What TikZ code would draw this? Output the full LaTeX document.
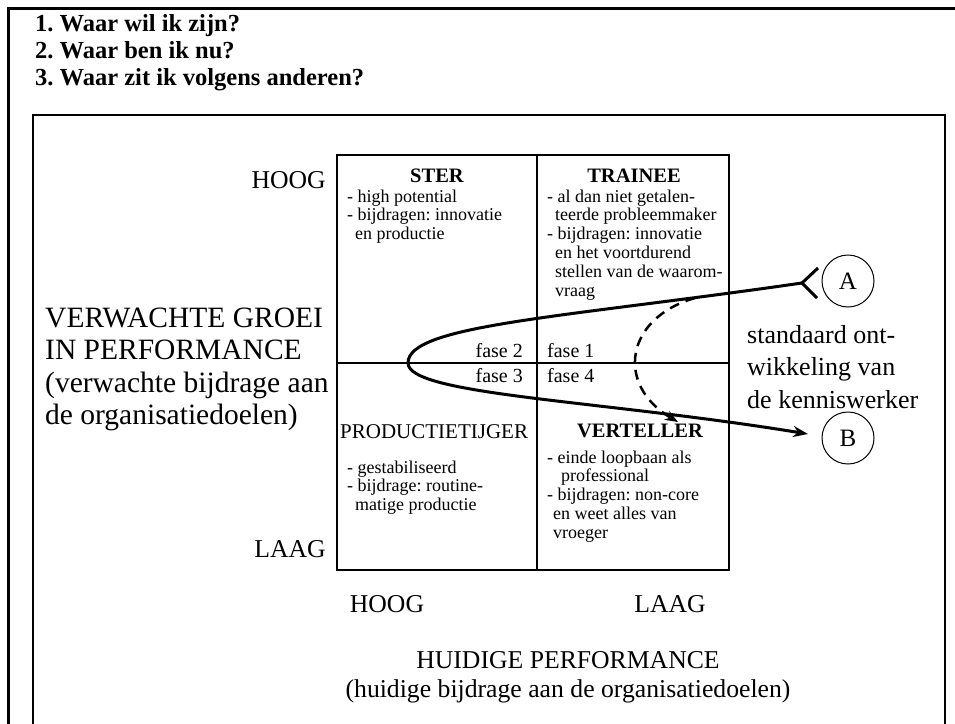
\documentclass[tikz,border=0pt]{standalone}
\usepackage{fontspec}
\setmainfont{Liberation Serif}
\usetikzlibrary{arrows.meta}

\newcommand\fsz[2]{\fontsize{#1}{#2}\selectfont}
% left-aligned block of lines whose baseline is that of its first line
\newcommand\stack[1]{\vtop{\halign{##\hfil\cr#1\crcr}}}

\begin{document}
\frenchspacing
\begin{tikzpicture}[x=1pt,y=-1pt,
  outerframe/.style={line width=3pt},
  panel/.style={line width=1.5pt},
  cellgrid/.style={line width=1.2pt},
  heading/.style={anchor=base west,inner sep=0pt,font=\fsz{24.5}{27}\bfseries},
  biglabel/.style={anchor=base,inner sep=0pt,font=\fsz{25.7}{29}},
  axislabel/.style={anchor=base west,inner sep=0pt,font=\fsz{29.5}{32.5}},
  cellhead/.style={anchor=base,inner sep=0pt,font=\fsz{20.5}{22}\bfseries},
  cellbody/.style={anchor=base west,inner sep=0pt,font=\fsz{18}{18.8}},
  faselabel/.style={inner sep=0pt,font=\fsz{20}{22}},
  endpoint/.style={circle,draw,line width=1pt,minimum size=52pt,inner sep=0pt,font=\fsz{25}{28}},
  track/.style={line width=3pt},
  dashtrack/.style={line width=2.5pt,dash pattern=on 10pt off 7pt}
]
\useasboundingbox (0,0) rectangle (955,723);

% frames
\draw[outerframe] (8,730) -- (8,8) -- (960,8);
\draw[panel] (33,730) -- (33,115) -- (945,115) -- (945,730);

% questions
\node[heading] (q1) at (35,31) {1. Waar wil ik zijn?};
\node[heading] (q2) at (35,58) {2. Waar ben ik nu?};
\node[heading] (q3) at (35,85) {3. Waar zit ik volgens anderen?};

% matrix
\draw[cellgrid] (337,155) rectangle (729,570);
\draw[cellgrid] (537,155) -- (537,570);
\draw[cellgrid] (337,363) -- (729,363);

% vertical axis
\node[biglabel,anchor=base east] (yhigh) at (326,188) {HOOG};
\node[biglabel,anchor=base east] (ylow) at (326,557) {LAAG};
\node[axislabel] (yaxis) at (45,327) {\stack{VERWACHTE GROEI\cr IN PERFORMANCE\cr (verwachte bijdrage aan\cr de organisatiedoelen)}};

% horizontal axis
\node[biglabel] (xhigh) at (387,612) {HOOG};
\node[biglabel] (xlow) at (670,612) {LAAG};
\node[biglabel] (xaxis) at (568,668) {HUIDIGE PERFORMANCE};
\node[biglabel] (xaxissub) at (568,697) {(huidige bijdrage aan de organisatiedoelen)};

% cells
\node[cellhead] (ster) at (437,182) {STER};
\node[cellbody] (sterbody) at (347,202) {\stack{- high potential\cr - bijdragen: innovatie\cr \hspace*{8pt}en productie}};

\node[cellhead] (trainee) at (634,182) {TRAINEE};
\node[cellbody] (traineebody) at (547,202) {\stack{- al dan niet getalen-\cr \hspace*{8pt}teerde probleemmaker\cr - bijdragen: innovatie\cr \hspace*{8pt}en het voortdurend\cr \hspace*{8pt}stellen van de waarom-\cr \hspace*{8pt}vraag}};

\node[faselabel,anchor=base east] (f2) at (523,357) {fase 2};
\node[faselabel,anchor=base west] (f1) at (547,357) {fase 1};
\node[faselabel,anchor=base east] (f3) at (523,382) {fase 3};
\node[faselabel,anchor=base west] (f4) at (547,382) {fase 4};

\node[anchor=base west,inner sep=0pt,font=\fsz{21}{23}] (prod) at (340,438) {PRODUCTIETIJGER};
\node[cellbody] (prodbody) at (347,473) {\stack{- gestabiliseerd\cr - bijdrage: routine-\cr \hspace*{8pt}matige productie}};

\node[cellhead] (vert) at (640,437) {VERTELLER};
\node[cellbody] (vertbody) at (547,463) {\stack{- einde loopbaan als\cr \hspace*{14pt}professional\cr - bijdragen: non-core\cr \hspace*{6pt}en weet alles van\cr \hspace*{6pt}vroeger}};

% development path
\node[endpoint] (A) at (848,281) {A};
\node[endpoint] (B) at (848,438) {B};
\node[anchor=base west,inner sep=0pt,font=\fsz{26}{32.5}] (std) at (747,343) {\stack{standaard ont-\cr wikkeling van\cr de kenniswerker}};

\coordinate (tailA) at (802,283);
\coordinate (turn) at (408,363);
\coordinate (tipB) at (808,434);
\draw[track,-{Stealth[length=15pt,width=11pt]}] (tailA) .. controls (560,318) and (408,325) .. (turn) .. controls (408,395) and (600,400) .. (tipB);
\draw[track,line join=miter] ([shift={(16,-15)}]tailA) -- (tailA) -- ([shift={(15,15)}]tailA);

\coordinate (dashS) at (695,298);
\coordinate (dashE) at (678,422);
\draw[dashtrack,-{Stealth[length=13pt,width=10pt]}] (dashS) .. controls (625,318) and (615,385) .. (dashE);
\end{tikzpicture}
\end{document}
